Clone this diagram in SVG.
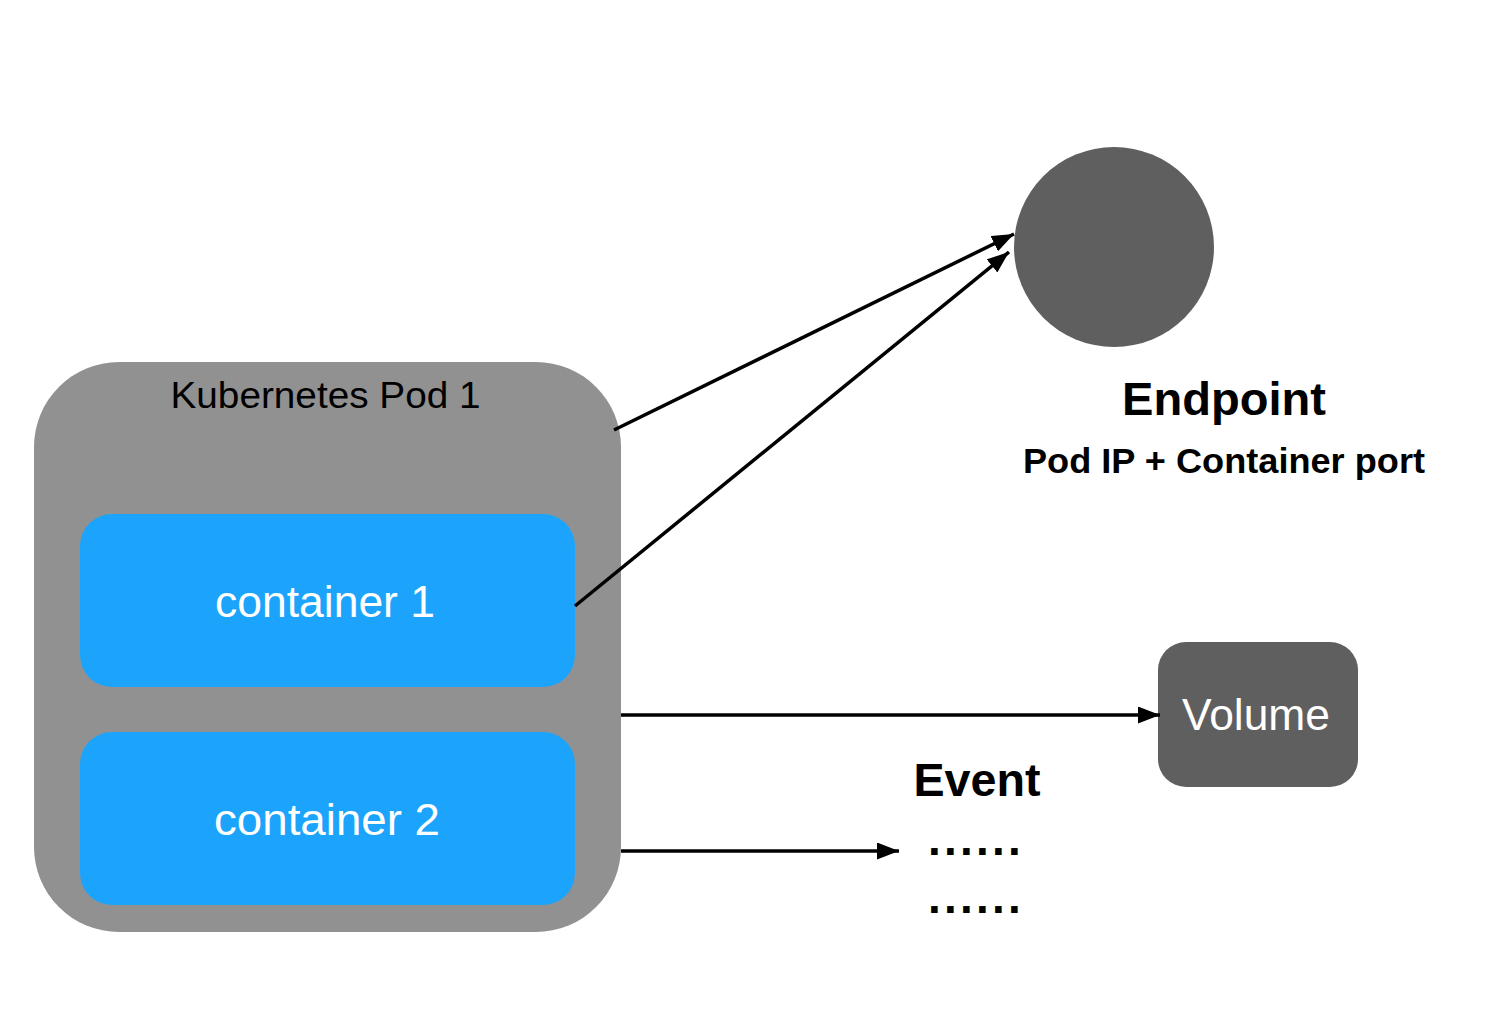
<svg xmlns="http://www.w3.org/2000/svg" width="1494" height="1028" viewBox="0 0 1494 1028">
<defs>
<style>
text{font-family:"Liberation Sans",Arial,sans-serif;text-anchor:middle}
.pod{fill:#919191}
.ctr{fill:#1ca4fc}
.dark{fill:#5f5f5f}
.w{fill:#fff;font-size:44px}
.b{fill:#000;font-weight:bold}
.conn{stroke:#000;stroke-width:3.5;fill:none;marker-end:url(#ah)}
</style>
<marker id="ah" markerUnits="userSpaceOnUse" markerWidth="22" markerHeight="17" refX="22" refY="8.5" orient="auto" viewBox="0 0 22 17">
<path d="M0,0 L22,8.5 L0,17 z" fill="#000"/>
</marker>
</defs>
<rect width="1494" height="1028" fill="#fff"/>
<g id="pod">
<rect class="pod" x="34" y="362" width="587" height="570" rx="85" ry="85"/>
<text x="325.5" y="408" textLength="310" lengthAdjust="spacingAndGlyphs" style="font-size:37px;fill:#000">Kubernetes Pod 1</text>
</g>
<g id="container1">
<rect class="ctr" x="80" y="514" width="495" height="173" rx="32" ry="32"/>
<text class="w" x="325" y="617" textLength="220" lengthAdjust="spacingAndGlyphs">container 1</text>
</g>
<g id="container2">
<rect class="ctr" x="80" y="732" width="495" height="173" rx="32" ry="32"/>
<text class="w" x="327" y="835" textLength="226" lengthAdjust="spacingAndGlyphs">container 2</text>
</g>
<g id="endpoint">
<circle class="dark" cx="1114" cy="247" r="100"/>
<text class="b" x="1224" y="415" textLength="204" lengthAdjust="spacingAndGlyphs" style="font-size:46px">Endpoint</text>
<text class="b" x="1224" y="473" textLength="402" lengthAdjust="spacingAndGlyphs" style="font-size:35px">Pod IP + Container port</text>
</g>
<g id="volume">
<rect class="dark" x="1158" y="642" width="200" height="145" rx="28" ry="28"/>
<text class="w" x="1256" y="730" textLength="148" lengthAdjust="spacingAndGlyphs">Volume</text>
</g>
<g id="event">
<text class="b" x="977" y="796" textLength="127" lengthAdjust="spacingAndGlyphs" style="font-size:46px">Event</text>
<text class="b" x="976" y="855" style="font-size:46px;letter-spacing:3.2px">......</text>
<text class="b" x="976" y="913" style="font-size:46px;letter-spacing:3.2px">......</text>
</g>
<g id="connectors">
<line class="conn" x1="614" y1="430" x2="1014" y2="234"/>
<line class="conn" x1="575" y1="606" x2="1009" y2="252"/>
<line class="conn" x1="621" y1="715" x2="1160" y2="715"/>
<line class="conn" x1="621" y1="851" x2="899" y2="851"/>
</g>
</svg>
